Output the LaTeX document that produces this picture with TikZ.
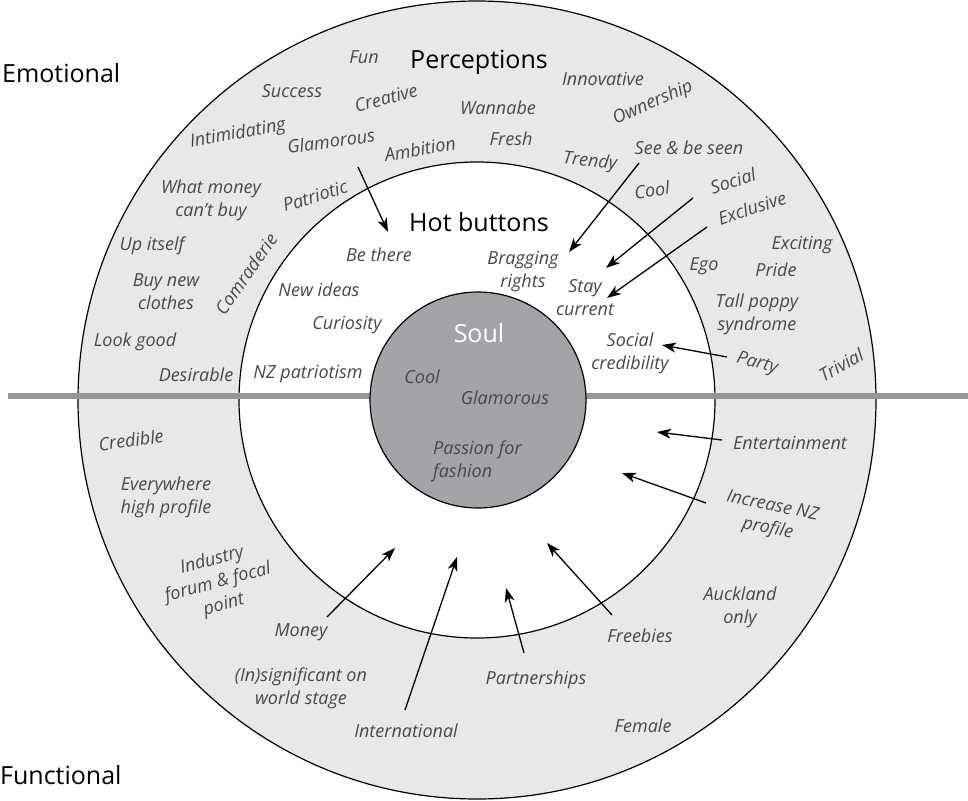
\documentclass[tikz,border=0pt]{standalone}
\usepackage{fontspec}
\setmainfont{Open Sans}
\usetikzlibrary{arrows.meta}
\definecolor{ringgray}{RGB}{231,232,233}
\definecolor{soulgray}{RGB}{163,164,167}
\definecolor{linegray}{RGB}{150,150,153}
\definecolor{labelgray}{RGB}{72,72,72}

\begin{document}
\begin{tikzpicture}[
        x=1pt, y=-1pt,
        lbl/.style={inner sep=0pt, align=center, text=labelgray, font=\itshape\fontsize{18}{23}\selectfont},
        hdr/.style={inner sep=0pt, font=\fontsize{25}{30}\selectfont},
        arrow/.style={-{Stealth[length=14pt,width=10pt,inset=4pt]}, line width=1.3pt}
    ]
        \useasboundingbox (0,0) rectangle (968,800);
        \filldraw[fill=ringgray, draw=black, line width=1.2pt] (477,400) circle[radius=399pt];
        \filldraw[fill=white, draw=black, line width=1.2pt] (477,400) circle[radius=238pt];
        \draw[linegray, line width=6pt] (8,396) -- (968,396);
        \filldraw[fill=soulgray, draw=black, line width=1.2pt] (478,400) circle[radius=108pt];

        \node[hdr, anchor=west] (emotional) at (2,73) {Emotional};
        \node[hdr, anchor=west] (functional) at (0,775) {Functional};
        \node[hdr] (perceptions) at (479,62) {Perceptions};
        \node[hdr] (hotbuttons) at (479,222) {Hot buttons};
        \node[hdr, text=white] (soul) at (479,333) {Soul};

        \node[lbl] (fun) at (364,57) {Fun};
        \node[lbl] (success) at (292,91) {Success};
        \node[lbl, rotate=15] (creative) at (386,98) {Creative};
        \node[lbl] (wannabe) at (498,108) {Wannabe};
        \node[lbl] (innovative) at (603,79) {Innovative};
        \node[lbl, rotate=24] (ownership) at (653,103) {Ownership};
        \node[lbl, rotate=10] (intimidating) at (238,134) {Intimidating};
        \node[lbl, rotate=8] (glamorous) at (331,141) {Glamorous};
        \node[lbl, rotate=10] (ambition) at (420,149) {Ambition};
        \node[lbl] (fresh) at (511,139) {Fresh};
        \node[lbl, rotate=-6] (trendy) at (590,162) {Trendy};
        \node[lbl] (seebeseen) at (689,148) {See \& be seen};
        \node[lbl, rotate=8] (cool) at (652,190) {Cool};
        \node[lbl, rotate=18] (social) at (733,181) {Social};
        \node[lbl, rotate=18] (exclusive) at (752,208) {Exclusive};
        \node[lbl] (whatmoney) at (211,200) {What money\\can’t buy};
        \node[lbl, rotate=17] (patriotic) at (315,196) {Patriotic};
        \node[lbl] (upitself) at (152,246) {Up itself};
        \node[lbl, rotate=55] (comraderie) at (246,274) {Comraderie};
        \node[lbl] (buynew) at (166,292) {Buy new\\clothes};
        \node[lbl] (lookgood) at (135,342) {Look good};
        \node[lbl] (desirable) at (196,375) {Desirable};
        \node[lbl] (exciting) at (802,245) {Exciting};
        \node[lbl] (ego) at (704,266) {Ego};
        \node[lbl] (pride) at (776,270) {Pride};
        \node[lbl] (tallpoppy) at (757,314) {Tall poppy\\syndrome};
        \node[lbl, rotate=-15] (party) at (757,364) {Party};
        \node[lbl, rotate=30] (trivial) at (841,365) {Trivial};

        \node[lbl] (bethere) at (379,255) {Be there};
        \node[lbl] (newideas) at (319,290) {New ideas};
        \node[lbl] (curiosity) at (347,325) {Curiosity};
        \node[lbl] (nzpatriotism) at (308,374) {NZ patriotism};
        \node[lbl] (bragging) at (523,272) {Bragging\\rights};
        \node[lbl] (staycurrent) at (585,298) {Stay\\current};
        \node[lbl] (socialcred) at (630,353) {Social\\credibility};

        \node[lbl] (soulcool) at (422,377) {Cool};
        \node[lbl] (soulglam) at (505,398) {Glamorous};
        \node[lbl, align=left, anchor=west] (passion) at (433,461) {Passion for\\fashion};

        \node[lbl, rotate=8] (credible) at (131,440) {Credible};
        \node[lbl] (everywhere) at (166,497) {Everywhere\\high profile};
        \node[lbl, rotate=15] (industry) at (218,583) {Industry\\forum \& focal\\point};
        \node[lbl] (money) at (301,632) {Money};
        \node[lbl] (insignificant) at (301,688) {(In)significant on\\world stage};
        \node[lbl] (international) at (406,731) {International};
        \node[lbl] (partnerships) at (536,680) {Partnerships};
        \node[lbl] (freebies) at (640,636) {Freebies};
        \node[lbl] (female) at (643,726) {Female};
        \node[lbl] (auckland) at (740,607) {Auckland\\only};
        \node[lbl] (entertainment) at (790,443) {Entertainment};
        \node[lbl, rotate=-12] (increasenz) at (770,518) {Increase NZ\\profile};

        \coordinate (ambitionfrom) at (358,167);
        \coordinate (ambitionto) at (388,232);
        \coordinate (seenfrom) at (639,163);
        \coordinate (seento) at (569,252);
        \coordinate (socialfrom) at (693,198);
        \coordinate (socialto) at (606,268);
        \coordinate (exclusivefrom) at (707,227);
        \coordinate (exclusiveto) at (607,298);
        \coordinate (partyfrom) at (727,357);
        \coordinate (partyto) at (662,345);
        \coordinate (entertainfrom) at (722,440);
        \coordinate (entertainto) at (657,432);
        \coordinate (increasefrom) at (706,503);
        \coordinate (increaseto) at (622,473);
        \coordinate (freebiesfrom) at (612,615);
        \coordinate (freebiesto) at (547,543);
        \coordinate (partnerfrom) at (524,653);
        \coordinate (partnerto) at (506,588);
        \coordinate (internatfrom) at (405,710);
        \coordinate (internatto) at (457,557);
        \coordinate (moneyfrom) at (327,617);
        \coordinate (moneyto) at (395,548);

        \draw[arrow] (ambitionfrom) -- (ambitionto);
        \draw[arrow] (seenfrom) -- (seento);
        \draw[arrow] (socialfrom) -- (socialto);
        \draw[arrow] (exclusivefrom) -- (exclusiveto);
        \draw[arrow] (partyfrom) -- (partyto);
        \draw[arrow] (entertainfrom) -- (entertainto);
        \draw[arrow] (increasefrom) -- (increaseto);
        \draw[arrow] (freebiesfrom) -- (freebiesto);
        \draw[arrow] (partnerfrom) -- (partnerto);
        \draw[arrow] (internatfrom) -- (internatto);
        \draw[arrow] (moneyfrom) -- (moneyto);
    \end{tikzpicture}
\end{document}
